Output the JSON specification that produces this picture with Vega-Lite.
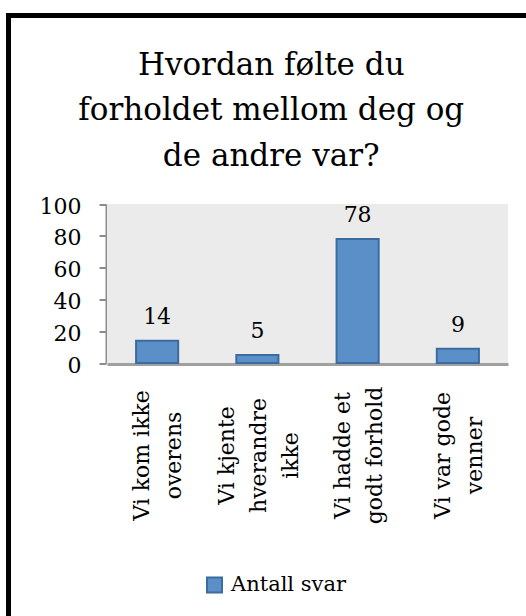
{
  "$schema": "https://vega.github.io/schema/vega-lite/v6.json",
  "width": 517.5,
  "height": 600.5,
  "autosize": {"type": "none"},
  "padding": {"left": 8.5, "top": 15.5, "right": 0, "bottom": 0},
  "background": "white",
  "config": {
    "view": {"stroke": "black", "strokeWidth": 5, "strokeDash": [517.5, 1118, 600.5], "strokeCap": "square", "fill": null},
    "font": "DejaVu Serif"
  },
  "title": {
    "text": ["Hvordan følte du", "forholdet mellom deg og", "de andre var?"],
    "font": "DejaVu Serif",
    "fontSize": 31,
    "fontWeight": "normal",
    "color": "black",
    "lineHeight": 45.5,
    "anchor": "middle",
    "frame": "group",
    "offset": -157,
    "dx": 4
  },
  "data": {
    "values": [
      {"svar": "Vi kom ikke overens", "antall": 14},
      {"svar": "Vi kjente hverandre ikke", "antall": 5},
      {"svar": "Vi hadde et godt forhold", "antall": 78},
      {"svar": "Vi var gode venner", "antall": 9}
    ]
  },
  "layer": [
    {
      "data": {"values": [{}]},
      "mark": {"type": "rect", "fill": "#ebebeb"},
      "encoding": {
        "x": {"datum": 0, "type": "quantitative", "scale": {"domain": [0, 1], "range": [98.5, 499.5]}, "axis": null},
        "x2": {"datum": 1},
        "y": {
          "datum": 0, "type": "quantitative",
          "scale": {"domain": [0, 100], "range": [347.5, 188.5], "nice": false},
          "axis": {"orient": "left", "offset": -97.5, "values": [0, 20, 40, 60, 80, 100], "domainColor": "#8c8c8c", "domainWidth": 2, "tickColor": "#8c8c8c", "tickWidth": 2, "tickSize": 7, "labelFont": "DejaVu Serif", "labelFontSize": 22, "labelColor": "black", "labelPadding": 18, "labelOffset": 2, "grid": false, "title": null}
        },
        "y2": {"datum": 100}
      }
    },
    {
      "layer": [
        {
          "mark": {"type": "bar", "stroke": "#3c6b9f", "strokeWidth": 2},
          "encoding": {
            "x": {
              "field": "svar", "type": "nominal", "sort": null,
              "scale": {"range": [98.5, 499.5], "paddingInner": 0.58, "paddingOuter": 0.29},
              "axis": {"orient": "bottom", "offset": -252, "domainColor": "#a0a0a0", "domainWidth": 3, "ticks": false, "labelAngle": -90, "labelAlign": "center", "labelBaseline": "middle", "labelPadding": 91, "labelFont": "DejaVu Serif", "labelFontSize": 22, "labelLineHeight": 32, "labelColor": "black", "labelOverlap": false, "labelLimit": 0, "labelBound": false, "title": null,
                "labelOffset": {"condition": {"test": "indexof(datum.value, 'hverandre') >= 0", "value": -30}, "value": -15},
                "labelExpr": "split(replace(replace(replace(replace(datum.value, 'ikke overens', 'ikke|overens'), 'kjente hverandre ikke', 'kjente|hverandre|ikke'), 'et godt', 'et|godt'), 'gode venner', 'gode|venner'), '|')"}
            },
            "y": {
              "field": "antall", "type": "quantitative",
              "scale": {"domain": [0, 100], "range": [347.5, 188.5], "nice": false},
              "axis": {"orient": "left", "offset": -97.5, "values": [0, 20, 40, 60, 80, 100], "domainColor": "#8c8c8c", "domainWidth": 2, "tickColor": "#8c8c8c", "tickWidth": 2, "tickSize": 7, "labelFont": "DejaVu Serif", "labelFontSize": 22, "labelColor": "black", "labelPadding": 18, "labelOffset": 2, "grid": false, "title": null}
            },
            "color": {
              "datum": "Antall svar", "type": "nominal",
              "scale": {"range": ["#5b8fc8"]},
              "legend": {"orient": "none", "legendX": 195.5, "legendY": 559, "title": null, "symbolType": "square", "symbolSize": 225, "symbolStrokeColor": "#3c6b9f", "symbolStrokeWidth": 2, "symbolOpacity": 1, "labelFont": "DejaVu Serif", "labelFontSize": 21, "labelColor": "black", "labelOffset": 6, "padding": 0}
            }
          }
        },
        {
          "mark": {"type": "text", "baseline": "alphabetic", "dy": -17, "fontSize": 22, "font": "DejaVu Serif", "color": "black"},
          "encoding": {
            "x": {"field": "svar", "type": "nominal", "sort": null},
            "y": {"field": "antall", "type": "quantitative"},
            "text": {"field": "antall", "type": "quantitative"}
          }
        }
      ]
    }
  ],
  "resolve": {"scale": {"x": "independent"}}
}
